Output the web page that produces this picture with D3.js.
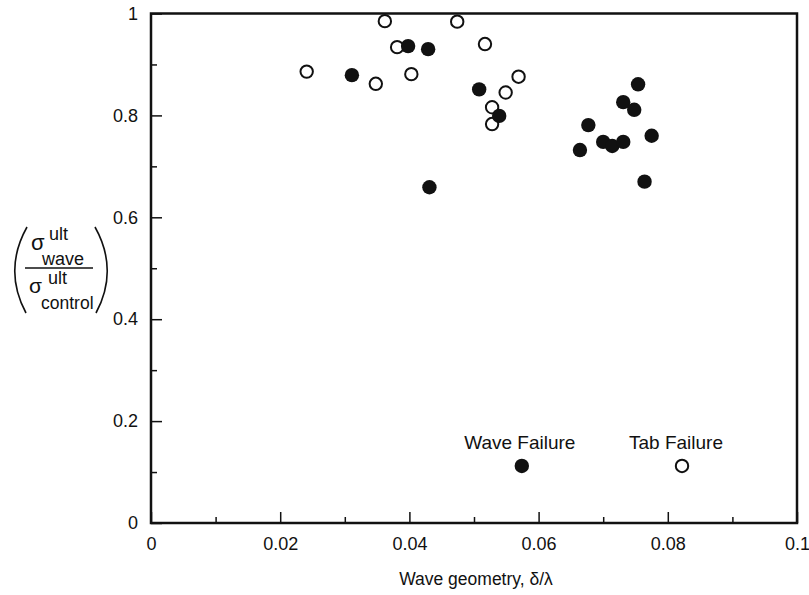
<!DOCTYPE html>
<html>
<head>
<meta charset="utf-8">
<script src="https://cdn.jsdelivr.net/npm/d3@7"></script>
<style>
  html, body { margin: 0; padding: 0; background: #fff; }
  text { font-family: "Liberation Sans", Arial, sans-serif; fill: #111; }
</style>
</head>
<body>
<svg id="chart" width="809" height="595"></svg>
<script>
// ---- data ----
const waveFailureX = [0.0311, 0.0398, 0.0429, 0.0431, 0.0508, 0.0539, 0.0664, 0.0677, 0.0700, 0.0714, 0.0731, 0.0731, 0.0748, 0.0754, 0.0775, 0.0764];
const waveFailureY = [0.879, 0.936, 0.930, 0.659, 0.851, 0.799, 0.732, 0.781, 0.748, 0.740, 0.748, 0.826, 0.811, 0.861, 0.760, 0.670];
const tabFailureX = [0.0241, 0.0348, 0.0362, 0.0381, 0.0403, 0.0474, 0.0517, 0.0569, 0.0549, 0.0528, 0.0528];
const tabFailureY = [0.886, 0.862, 0.985, 0.934, 0.881, 0.984, 0.940, 0.876, 0.845, 0.816, 0.783];
const xTickValues = [0, 0.02, 0.04, 0.06, 0.08, 0.1];
const xTickLabels = ["0", "0.02", "0.04", "0.06", "0.08", "0.1"];
const xMinorTicks = [0.01, 0.03, 0.05, 0.07, 0.09];
const yTickValues = [0, 0.2, 0.4, 0.6, 0.8, 1];
const yTickLabels = ["0", "0.2", "0.4", "0.6", "0.8", "1"];
const yMinorTicks = [0.1, 0.3, 0.5, 0.7, 0.9];
const legendItems = [
  { label: "Wave Failure", x: 0.0574, y: 0.112, filled: true },
  { label: "Tab Failure", x: 0.0822, y: 0.112, filled: false }
];
const xTitle = "Wave geometry, \u03B4/\u03BB";

// ---- chart ----
(function () {
const svg = d3.select("#chart");
const mLeft = 151, mRight = 797, mTop = 13.5, mBottom = 523;
const x = d3.scaleLinear().domain([0, 0.1]).range([mLeft, mRight]);
const y = d3.scaleLinear().domain([0, 1]).range([mBottom, mTop]);

// minor ticks
svg.append("g").attr("transform", `translate(${mLeft},0)`)
  .call(d3.axisLeft(y).tickValues(yMinorTicks).tickSize(-6).tickFormat(""))
  .call(g => g.select(".domain").remove())
  .call(g => g.selectAll("line").attr("stroke", "#111").attr("stroke-width", 1.5));
svg.append("g").attr("transform", `translate(0,${mBottom})`)
  .call(d3.axisBottom(x).tickValues(xMinorTicks).tickSize(-6).tickFormat(""))
  .call(g => g.select(".domain").remove())
  .call(g => g.selectAll("line").attr("stroke", "#111").attr("stroke-width", 1.5));

// major axes
const yAxis = svg.append("g").attr("transform", `translate(${mLeft},0)`)
  .call(d3.axisLeft(y).tickValues(yTickValues).tickSize(-11).tickPadding(13)
    .tickFormat((d, i) => yTickLabels[i]));
yAxis.select(".domain").remove();
yAxis.selectAll("line").attr("stroke", "#111").attr("stroke-width", 1.5);
yAxis.selectAll("text").attr("font-size", 18).attr("font-family", "Liberation Sans, Arial, sans-serif").attr("fill", "#111");

const xAxis = svg.append("g").attr("transform", `translate(0,${mBottom})`)
  .call(d3.axisBottom(x).tickValues(xTickValues).tickSize(-11).tickPadding(14)
    .tickFormat((d, i) => xTickLabels[i]));
xAxis.select(".domain").remove();
xAxis.selectAll("line").attr("stroke", "#111").attr("stroke-width", 1.5);
xAxis.selectAll("text").attr("font-size", 18).attr("font-family", "Liberation Sans, Arial, sans-serif").attr("fill", "#111");

// frame
svg.append("rect")
  .attr("x", mLeft).attr("y", mTop)
  .attr("width", mRight - mLeft).attr("height", mBottom - mTop)
  .attr("fill", "none").attr("stroke", "#111").attr("stroke-width", 2.5);

// points
const wave = waveFailureX.map((d, i) => ({ x: d, y: waveFailureY[i] }));
const tab = tabFailureX.map((d, i) => ({ x: d, y: tabFailureY[i] }));

svg.append("g").selectAll("circle").data(tab).join("circle")
  .attr("cx", d => x(d.x)).attr("cy", d => y(d.y)).attr("r", 6.2)
  .attr("fill", "#fff").attr("stroke", "#111").attr("stroke-width", 2);
svg.append("g").selectAll("circle").data(wave).join("circle")
  .attr("cx", d => x(d.x)).attr("cy", d => y(d.y)).attr("r", 7.2)
  .attr("fill", "#111");

// legend
const lg = svg.append("g").selectAll("g").data(legendItems).join("g");
lg.append("circle")
  .attr("cx", d => x(d.x)).attr("cy", d => y(d.y))
  .attr("r", d => d.filled ? 7.2 : 6.2)
  .attr("fill", d => d.filled ? "#111" : "#fff")
  .attr("stroke", "#111").attr("stroke-width", d => d.filled ? 0 : 2);
lg.append("text")
  .attr("x", d => x(d.x) + (d.filled ? -2 : -6)).attr("y", d => y(d.y) - 17)
  .attr("text-anchor", "middle").attr("font-size", 19)
  .text(d => d.label);

// x title
svg.append("text")
  .attr("x", 476).attr("y", 585)
  .attr("text-anchor", "middle").attr("font-size", 17.5)
  .text(xTitle);

// y title: (σ^ult_wave / σ^ult_control)
const yl = svg.append("g");
yl.append("path").attr("d", "M27,227 Q3,270 26,313").attr("fill", "none").attr("stroke", "#111").attr("stroke-width", 1.6);
yl.append("path").attr("d", "M95,227 Q119,270 96,313").attr("fill", "none").attr("stroke", "#111").attr("stroke-width", 1.6);
yl.append("line").attr("x1", 25).attr("x2", 93).attr("y1", 268).attr("y2", 268).attr("stroke", "#111").attr("stroke-width", 1.5);
yl.append("text").attr("x", 31).attr("y", 250).attr("font-size", 22).text("\u03C3");
yl.append("text").attr("x", 49).attr("y", 240).attr("font-size", 18).text("ult");
yl.append("text").attr("x", 42).attr("y", 265).attr("font-size", 18).text("wave");
yl.append("text").attr("x", 29).attr("y", 293).attr("font-size", 21).text("\u03C3");
yl.append("text").attr("x", 48).attr("y", 284).attr("font-size", 18).text("ult");
yl.append("text").attr("x", 41).attr("y", 309).attr("font-size", 17.5).text("control");
})();
</script>
</body>
</html>
